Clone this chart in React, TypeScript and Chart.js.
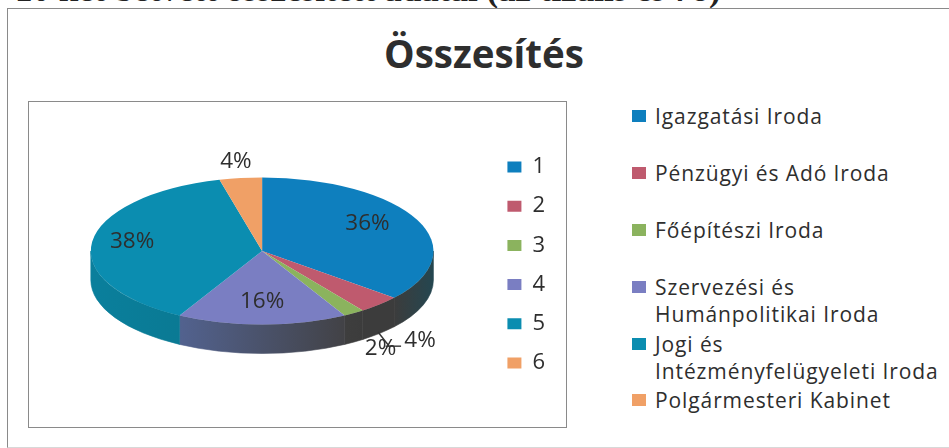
import React, { useEffect, useRef } from "react";
import { Chart, registerables } from "chart.js";

Chart.register(...registerables);

const categories = ["1", "2", "3", "4", "5", "6"];
const shares = [36, 4, 2, 16, 38, 4];
const officeNames = [
  "Igazgatási Iroda",
  "Pénzügyi és Adó Iroda",
  "Főépítészi Iroda",
  "Szervezési és\nHumánpolitikai Iroda",
  "Jogi és\nIntézményfelügyeleti Iroda",
  "Polgármesteri Kabinet",
];
const titleText = "Összesítés";
const headingText = "10 két betvett összesített adatai (az tizális és 7ö)";

const faceColors = ["#0e7fbe", "#bf5a6e", "#8bb35e", "#7a7ec2", "#0b8db0", "#f0a066"];
const wallStops = [
  ["#3c3c3c", "#244650"],
  ["#3c3c3c", "#3c3c3c"],
  ["#3e3e3e", "#3c3c3c"],
  ["#52628f", "#424246"],
  ["#0a7f9c", "#0a7a94"],
  ["#0a7f9c", "#0a7f9c"],
];
const labelRadius = [0.68, 1.347, 1.29, 0.69, 0.765, 1.22];
const labelDrop = [-6, 17, 18, 0, -2, 0];
const leaders: Record<number, number[]> = {
  1: [-34.5, 6, -19, 6],
  2: [-2.5, -17, 8.5, -3],
};
const legendGaps = [30, 30, 30, 3, 2, 0];

const RX = 171.3;
const RY = 73.5;
const LIFT = 14;
const DEPTH = 29;
const INK = "#2e2e2e";
const FONT = '"Open Sans", sans-serif';

const pie3d = {
  id: "pie3d",
  beforeDatasetsDraw(chart: any) {
    const { ctx } = chart;
    const arcs = chart.getDatasetMeta(0).data;
    const { x: cx, y, outerRadius: r } = arcs[0];
    const cy = y - LIFT;
    arcs.forEach((arc: any, i: number) => {
      const a = Math.max(arc.startAngle, 0);
      const b = Math.min(arc.endAngle, Math.PI);
      if (b <= a) return;
      const x0 = cx + RX * Math.cos(b);
      const x1 = cx + RX * Math.cos(a);
      const g = ctx.createLinearGradient(x0, 0, x1, 0);
      g.addColorStop(0, wallStops[i][0]);
      g.addColorStop(1, wallStops[i][1]);
      ctx.save();
      ctx.beginPath();
      ctx.ellipse(cx, cy, RX, RY, 0, a, b);
      ctx.ellipse(cx, cy + DEPTH, RX, RY, 0, b, a, true);
      ctx.closePath();
      ctx.fillStyle = g;
      ctx.strokeStyle = g;
      ctx.lineWidth = 0.6;
      ctx.fill();
      ctx.stroke();
      ctx.restore();
    });
    ctx.save();
    ctx.translate(cx, cy);
    ctx.scale(RX / r, RY / r);
    ctx.translate(-cx, -y);
  },
  afterDatasetsDraw(chart: any) {
    const { ctx } = chart;
    ctx.restore();
    const arcs = chart.getDatasetMeta(0).data;
    const { x: cx, y } = arcs[0];
    const cy = y - LIFT;
    ctx.save();
    ctx.font = `22.5px ${FONT}`;
    ctx.textAlign = "center";
    ctx.textBaseline = "middle";
    ctx.fillStyle = INK;
    ctx.strokeStyle = "#333333";
    ctx.lineWidth = 1.4;
    arcs.forEach((arc: any, i: number) => {
      const m = (arc.startAngle + arc.endAngle) / 2;
      const lx = cx + RX * labelRadius[i] * Math.cos(m);
      const ly = cy + RY * labelRadius[i] * Math.sin(m) + labelDrop[i];
      const lead = leaders[i];
      if (lead) {
        ctx.beginPath();
        ctx.moveTo(lx + lead[0], ly + lead[1]);
        ctx.lineTo(lx + lead[2], ly + lead[3]);
        ctx.stroke();
      }
      ctx.fillText(`${shares[i]}%`, lx, ly);
    });
    ctx.restore();
  },
};

export default function App() {
  const ref = useRef<HTMLCanvasElement>(null);
  useEffect(() => {
    const chart = new Chart(ref.current as HTMLCanvasElement, {
      type: "pie",
      data: {
        labels: categories,
        datasets: [{ data: shares, backgroundColor: faceColors, borderWidth: 0 }],
      },
      options: {
        responsive: false,
        animation: false,
        layout: { padding: { left: 5, right: 11, top: 13, bottom: 12 } },
        plugins: {
          title: { display: false },
          tooltip: { enabled: false },
          legend: {
            position: "right",
            labels: {
              boxWidth: 14,
              boxHeight: 11,
              padding: 17.2,
              color: INK,
              font: { family: FONT, size: 22 },
            },
          },
        },
      },
      plugins: [pie3d],
    } as any);
    return () => chart.destroy();
  }, []);

  return (
    <div
      style={{
        position: "fixed",
        left: 0,
        top: 0,
        width: 949,
        height: 448,
        overflow: "hidden",
        background: "#ffffff",
        fontFamily: FONT,
        color: INK,
        filter: "blur(0.55px)",
      }}
    >
      <div
        style={{
          position: "absolute",
          left: 15,
          top: -28,
          fontFamily: '"Liberation Serif", serif',
          fontWeight: 700,
          fontSize: 35,
          lineHeight: "35px",
          whiteSpace: "nowrap",
          color: "#222222",
        }}
      >
        {headingText}
      </div>
      <div
        style={{
          position: "absolute",
          left: 7,
          top: 8,
          width: 960,
          height: 438,
          borderLeft: "1.5px solid #8a8a8a",
          borderTop: "1.5px solid #8a8a8a",
          borderBottom: "1px solid #d8d8d8",
        }}
      />
      <div
        style={{
          position: "absolute",
          left: 293,
          width: 382,
          top: 28,
          textAlign: "center",
          fontWeight: 700,
          fontSize: 38.5,
          lineHeight: "50px",
        }}
      >
        {titleText}
      </div>
      <canvas
        ref={ref}
        width={537}
        height={325}
        style={{
          position: "absolute",
          left: 29,
          top: 102,
          width: 537,
          height: 325,
          outline: "1px solid #8a8a8a",
        }}
      />
      <div style={{ position: "absolute", left: 632, top: 103 }}>
        {officeNames.map((name, i) => (
          <div
            key={name}
            style={{
              position: "relative",
              paddingLeft: 23,
              marginBottom: legendGaps[i],
              fontSize: 21,
              lineHeight: "27px",
              letterSpacing: 0.9,
              whiteSpace: "pre-line",
            }}
          >
            <span
              style={{
                position: "absolute",
                left: 0,
                top: 7,
                width: 14,
                height: 12,
                background: faceColors[i],
              }}
            />
            {name}
          </div>
        ))}
      </div>
    </div>
  );
}
